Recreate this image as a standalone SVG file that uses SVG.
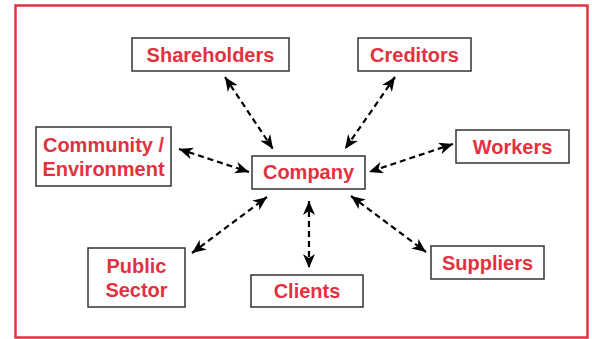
<svg xmlns="http://www.w3.org/2000/svg" width="592" height="339" viewBox="0 0 592 339">
  <style>
    .box { fill: #ffffff; stroke: #333333; stroke-width: 1.5; }
    .lbl { font-family: "Liberation Sans", Arial, sans-serif; font-weight: bold; font-size: 20px; fill: #e2323f; text-anchor: middle; }
    .link { stroke: #000000; stroke-width: 2.2; stroke-dasharray: 6 4; fill: none; marker-start: url(#head); marker-end: url(#head); }
  </style>
  <defs>
    <marker id="head" viewBox="0 0 14 12" refX="14" refY="6" markerWidth="14" markerHeight="12" markerUnits="userSpaceOnUse" orient="auto-start-reverse">
      <path d="M0,0 L14,6 L0,12 L4,6 z" fill="#000000"/>
    </marker>
  </defs>

  <!-- outer frame -->
  <rect x="15.5" y="5.5" width="572" height="332" fill="#ffffff" stroke="#e2323f" stroke-width="2.5"/>

  <!-- connectors -->
  <g id="connectors">
    <line class="link" x1="225" y1="77" x2="273" y2="149"/>
    <line class="link" x1="395" y1="77" x2="345" y2="149"/>
    <line class="link" x1="453" y1="144" x2="369" y2="172"/>
    <line class="link" x1="179" y1="149" x2="249" y2="172"/>
    <line class="link" x1="192" y1="253" x2="267" y2="197"/>
    <line class="link" x1="309" y1="201" x2="309" y2="268"/>
    <line class="link" x1="351" y1="196" x2="426" y2="252"/>
  </g>

  <g id="company">
    <rect class="box" x="252" y="156" width="113" height="33"/>
    <text class="lbl" x="308.5" y="179">Company</text>
  </g>
  <g id="shareholders">
    <rect class="box" x="132" y="38" width="157" height="33"/>
    <text class="lbl" x="210.5" y="62">Shareholders</text>
  </g>
  <g id="creditors">
    <rect class="box" x="358" y="38" width="113" height="33"/>
    <text class="lbl" x="414.5" y="62">Creditors</text>
  </g>
  <g id="workers">
    <rect class="box" x="456" y="130" width="113" height="33"/>
    <text class="lbl" x="512.5" y="154">Workers</text>
  </g>
  <g id="community">
    <rect class="box" x="36" y="127" width="135" height="59"/>
    <text class="lbl" x="103.5" y="152">Community /</text>
    <text class="lbl" x="103.5" y="176">Environment</text>
  </g>
  <g id="public-sector">
    <rect class="box" x="88" y="248" width="97" height="59"/>
    <text class="lbl" x="136.5" y="273">Public</text>
    <text class="lbl" x="136.5" y="297">Sector</text>
  </g>
  <g id="clients">
    <rect class="box" x="251" y="275" width="112" height="32"/>
    <text class="lbl" x="307" y="298">Clients</text>
  </g>
  <g id="suppliers">
    <rect class="box" x="431" y="246" width="113" height="33"/>
    <text class="lbl" x="487.5" y="270">Suppliers</text>
  </g>
</svg>
